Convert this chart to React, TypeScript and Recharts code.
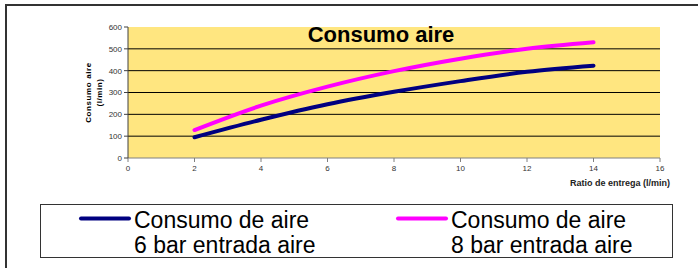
import React from 'react';
import { LineChart, Line, XAxis, YAxis, CartesianGrid } from 'recharts';

const xValues = [2, 4, 6, 8, 10, 12, 14];
const bar6Values = [95, 175, 246, 303, 352, 395, 423];
const bar8Values = [128, 240, 327, 398, 455, 500, 530];
const xTicks = [0, 2, 4, 6, 8, 10, 12, 14, 16];
const yTicks = [0, 100, 200, 300, 400, 500, 600];
const gridValues = [100, 200, 300, 400, 500];
const titleText = 'Consumo aire';
const yLabelLines = ['Consumo aire', '(l/min)'];
const xLabelText = 'Ratio de entrega (l/min)';
const seriesNames = [
  ['Consumo de aire', '6 bar entrada aire'],
  ['Consumo de aire', '8 bar entrada aire'],
];
const seriesColors = ['#000080', '#FF00FF'];
const seriesKeys = ['bar6', 'bar8'];

const data = xValues.map((x, i) => ({ x, bar6: bar6Values[i], bar8: bar8Values[i] }));

const FONT = "'Liberation Sans', Arial, sans-serif";

const YLabel = (props: any) => {
  const vb = props.viewBox || { x: 0, y: 27, width: 128, height: 131 };
  const cx = 93.5;
  const cy = vb.y + vb.height / 2;
  return (
    <text
      transform={`rotate(-90, ${cx}, ${cy})`}
      x={cx}
      y={cy}
      textAnchor="middle"
      fontFamily={FONT}
      fontSize={8}
      fontWeight="bold"
      letterSpacing={0.6}
      fill="#000"
    >
      <tspan x={cx} dy={-2.5}>{yLabelLines[0]}</tspan>
      <tspan x={cx} dy={11}>{yLabelLines[1]}</tspan>
    </text>
  );
};

const XLabel = (props: any) => {
  const vb = props.viewBox || { x: 128, y: 158, width: 532, height: 110 };
  return (
    <text
      x={vb.x + vb.width + 10}
      y={vb.y + 28}
      textAnchor="end"
      fontFamily={FONT}
      fontSize={9}
      fontWeight="bold"
      fill="#222"
    >
      {xLabelText}
    </text>
  );
};

const legendItemLeft = [80, 397];

export default function App() {
  return (
    <div style={{ position: 'absolute', left: 0, top: 0, width: 698, height: 268, overflow: 'hidden', background: '#fff' }}>
      <div
        style={{
          position: 'absolute',
          left: 5,
          top: 4,
          width: 900,
          height: 500,
          border: '2px solid #333',
          boxSizing: 'border-box',
        }}
      />
      <div style={{ position: 'absolute', left: 0, top: 0 }}>
        <LineChart width={698} height={268} data={data} margin={{ top: 27, right: 38, left: 0, bottom: 0 }}>
          <CartesianGrid
            vertical={false}
            horizontalValues={gridValues}
            stroke="#000"
            strokeWidth={1}
            fill="#FFE680"
            fillOpacity={1}
          />
          <XAxis
            type="number"
            dataKey="x"
            domain={[0, 16]}
            ticks={xTicks}
            interval={0}
            height={110}
            tickSize={4}
            tickMargin={3}
            stroke="#808080"
            tick={{ fontSize: 8, fill: '#333', fontFamily: FONT }}
            label={<XLabel />}
          />
          <YAxis
            type="number"
            domain={[0, 600]}
            ticks={yTicks}
            interval={0}
            width={128}
            tickSize={4}
            tickMargin={2}
            stroke="#404040"
            tick={{ fontSize: 8, fill: '#333', fontFamily: FONT }}
            label={<YLabel />}
          />
          {seriesKeys.map((k, i) => (
            <Line
              key={k}
              type="monotone"
              dataKey={k}
              stroke={seriesColors[i]}
              strokeWidth={4}
              strokeLinecap="round"
              dot={false}
              activeDot={false}
              isAnimationActive={false}
            />
          ))}
        </LineChart>
      </div>
      <svg
        width={698}
        height={268}
        style={{ position: 'absolute', left: 0, top: 0, pointerEvents: 'none' }}
      >
        <text x={381} y={42.3} textAnchor="middle" fontFamily={FONT} fontSize={22} fontWeight="bold" fill="#000">
          {titleText}
        </text>
        <rect x={40.5} y={204.5} width={632} height={53} fill="#fff" stroke="#333" strokeWidth={1} />
        {seriesNames.map((lines, i) => (
          <g key={i}>
            <line
              x1={legendItemLeft[i] + 1}
              x2={legendItemLeft[i] + 49}
              y1={218.5}
              y2={218.5}
              stroke={seriesColors[i]}
              strokeWidth={4}
              strokeLinecap="round"
            />
            <text x={legendItemLeft[i] + 54} y={228} fontFamily={FONT} fontSize={23} fill="#000">
              {lines[0]}
            </text>
            <text x={legendItemLeft[i] + 54} y={253} fontFamily={FONT} fontSize={23} fill="#000">
              {lines[1]}
            </text>
          </g>
        ))}
      </svg>
    </div>
  );
}
